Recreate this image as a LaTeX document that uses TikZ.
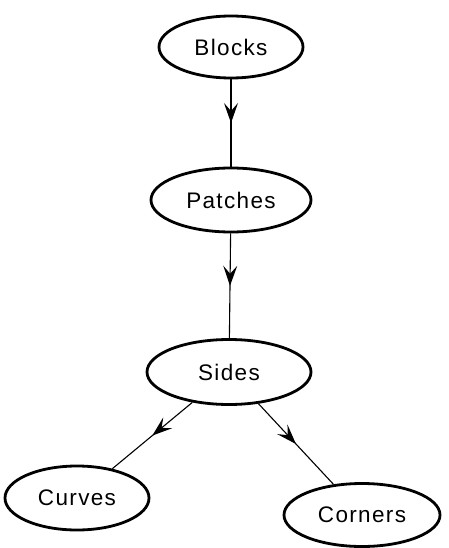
\documentclass[tikz,border=0pt]{standalone}
\usepackage{fontspec}
\setmainfont{Liberation Sans}[LetterSpace=6]
\usetikzlibrary{shapes.geometric,arrows.meta,decorations.markings}

\tikzset{
  entity/.style={draw, ellipse, line width=2.8pt, inner sep=0pt,
    font=\fontsize{22.5}{26}\selectfont},
  link/.style={line width=1.1pt,
    postaction={decorate},
    decoration={markings,
      mark=at position 0.5 with {\arrow{Stealth[length=20pt,width=14pt,inset=8pt]}}}}
}

\begin{document}
\begin{tikzpicture}[x=1pt,y=-1pt]
  \useasboundingbox (0,0) rectangle (449,548);

  \node[entity, minimum width=144pt, minimum height=62pt] (blocks)  at (231,47)  {Blocks};
  \node[entity, minimum width=160pt, minimum height=64pt] (patches) at (231,200) {Patches};
  \node[entity, minimum width=164pt, minimum height=65pt] (sides)   at (229,372) {Sides};
  \node[entity, minimum width=144pt, minimum height=64pt] (curves)  at (77,498)  {Curves};
  \node[entity, minimum width=156pt, minimum height=63pt] (corners) at (362,515) {Corners};

  \draw[link] (blocks)  -- (patches);
  \draw[link] (patches) -- (sides);
  \draw[link] (sides)   -- (curves);
  \draw[link] (sides)   -- (corners);
\end{tikzpicture}
\end{document}
